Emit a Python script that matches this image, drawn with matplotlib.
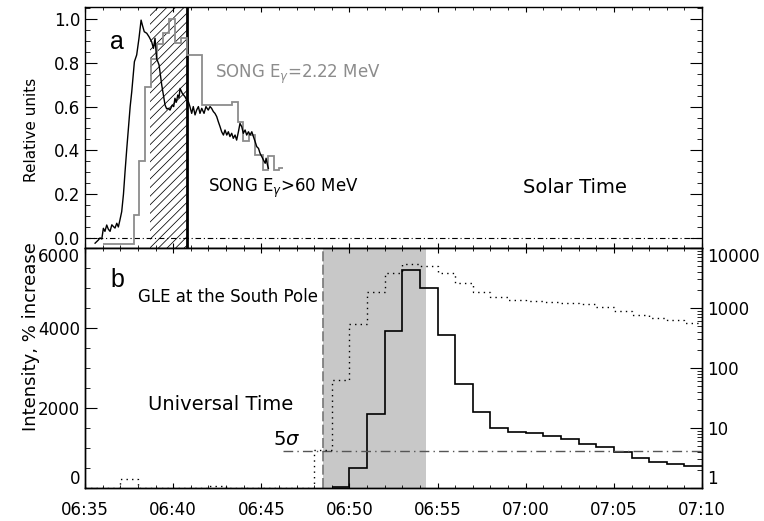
import matplotlib

matplotlib.use("Agg")

import matplotlib.pyplot as plt
import numpy as np
from matplotlib.ticker import FixedLocator, LogLocator, MultipleLocator, NullFormatter

# time axis: minutes after 06:35 UT
tick_minutes = [0, 5, 10, 15, 20, 25, 30, 35]
tick_labels = ["06:35", "06:40", "06:45", "06:50", "06:55", "07:00", "07:05", "07:10"]

# panel a: SONG E>60 MeV (relative units)
hard_t = [0.57, 0.75, 0.85, 0.95, 1.04, 1.13, 1.23, 1.32, 1.42, 1.52, 1.61, 1.70, 1.80, 1.89,
          1.98, 2.08, 2.18, 2.27, 2.37, 2.46, 2.56, 2.65, 2.80, 2.93, 3.06, 3.18, 3.25, 3.36,
          3.50, 3.63, 3.78, 3.88, 3.97, 4.06, 4.20, 4.35, 4.54, 4.63, 4.73, 4.82, 4.95, 5.03,
          5.10, 5.18, 5.26, 5.33, 5.39, 5.52, 5.67, 5.77, 5.86, 5.95, 6.05, 6.14, 6.24, 6.33,
          6.43, 6.52, 6.62, 6.75, 6.86, 6.99, 7.09, 7.18, 7.28, 7.37, 7.47, 7.56, 7.66, 7.75,
          7.85, 7.94, 8.04, 8.13, 8.22, 8.32, 8.41, 8.51, 8.60, 8.70, 8.79, 8.89, 8.98, 9.08,
          9.17, 9.27, 9.36, 9.46, 9.55, 9.65, 9.74, 9.84, 9.93, 10.03, 10.12, 10.22, 10.27,
          10.35, 10.40]
hard_v = [-0.024, -0.01, 0.0, -0.005, 0.044, 0.03, 0.059, 0.04, 0.03, 0.06, 0.052, 0.045,
          0.067, 0.05, 0.082, 0.12, 0.2, 0.303, 0.41, 0.5, 0.6, 0.668, 0.805, 0.836, 0.912,
          0.995, 0.973, 0.942, 0.935, 0.919, 0.896, 0.866, 0.912, 0.82, 0.79, 0.699, 0.607,
          0.59, 0.592, 0.584, 0.607, 0.6, 0.638, 0.62, 0.653, 0.64, 0.683, 0.66, 0.645, 0.63,
          0.623, 0.6, 0.569, 0.6, 0.562, 0.584, 0.6, 0.569, 0.592, 0.569, 0.6, 0.584, 0.6,
          0.592, 0.577, 0.569, 0.554, 0.531, 0.508, 0.485, 0.47, 0.493, 0.47, 0.485, 0.463,
          0.478, 0.455, 0.47, 0.447, 0.485, 0.523, 0.508, 0.478, 0.493, 0.47, 0.485, 0.47,
          0.485, 0.463, 0.44, 0.417, 0.409, 0.386, 0.371, 0.356, 0.341, 0.364, 0.333, 0.318]

# panel a: SONG E=2.22 MeV (relative units, histogram)
neutron_edges = [1.0, 2.75, 3.08, 3.42, 3.75, 4.08, 4.42, 4.75, 5.1, 5.45, 5.8, 6.62, 8.32,
                 8.65, 8.98, 9.32, 9.65, 10.08, 10.4, 10.74, 11.02, 11.25]
neutron_vals = [-0.03, 0.105, 0.35, 0.69, 0.817, 0.885, 0.934, 1.0, 0.889, 0.912, 0.836,
                0.607, 0.622, 0.53, 0.445, 0.47, 0.38, 0.31, 0.372, 0.31, 0.318]

# panel b: GLE at South Pole, % increase (linear, left axis)
gle_edges = list(range(14, 36))
gle_pct = [30, 510, 1840, 3930, 5450, 5000, 3825, 2600, 1890, 1510, 1390, 1380, 1300,
           1225, 1090, 1015, 910, 740, 660, 600, 550]

# panel b: same data on log scale (right axis)
gle_log_edges = list(range(0, 36))
gle_log = [1.0, 1.0, 1.41, 1.0, 1.0, 1.0, 1.0, 1.08, 1.0, 1.0, 1.0, 1.0, 1.0, 4.3, 63,
           536, 1870, 3800, 5400, 5000, 3800, 2600, 1870, 1500, 1360, 1300, 1250, 1220,
           1150, 1050, 900, 765, 690, 630, 560]

hatch_span = (3.69, 5.79)
onset_span = (13.52, 19.34)
five_sigma = 925
five_sigma_start = 11.25

fig = plt.figure(figsize=(7.64, 5.21), dpi=100)
ax_a = fig.add_axes([0.1113, 0.524, 0.8076, 0.4626])
ax_b = fig.add_axes([0.1113, 0.0633, 0.8076, 0.4607])

narrow = ["Liberation Sans Narrow", "DejaVu Sans"]
tick_font = 12
ylim_a = (-0.046, 1.055)
xlim = (0, 35)

# ---- panel a
# diagonal hatching of the impulsive interval, drawn as 45 degree lines clipped to the span
span = ax_a.axvspan(*hatch_span, facecolor="none", edgecolor="none")
bbox = ax_a.get_position()
w_px = bbox.width * fig.get_figwidth() * fig.dpi
h_px = bbox.height * fig.get_figheight() * fig.dpi
run = h_px / (w_px / (xlim[1] - xlim[0]))  # minutes covered by one axes-height at 45 deg
step = 8.6 / (w_px / (xlim[1] - xlim[0]))
for start in np.arange(hatch_span[0] - run, hatch_span[1], step):
    line, = ax_a.plot([start, start + run], [0, 1], color="black", lw=0.55,
                      transform=ax_a.get_xaxis_transform(), zorder=1)
    line.set_clip_path(span)

ax_a.axvline(hatch_span[1], color="black", lw=2.0)
ax_a.axhline(0.0, color="black", lw=0.8, ls=(0, (5, 2.5, 1, 2.5)))
ax_a.stairs(neutron_vals, neutron_edges, color="#8c8c8c", lw=1.3, baseline=None, zorder=2)
ax_a.plot(hard_t, hard_v, color="black", lw=1.0, zorder=3)

ax_a.set_xlim(*xlim)
ax_a.set_ylim(*ylim_a)
ax_a.xaxis.set_major_locator(MultipleLocator(5))
ax_a.xaxis.set_minor_locator(MultipleLocator(1))
ax_a.xaxis.set_major_formatter(NullFormatter())
ax_a.yaxis.set_major_locator(MultipleLocator(0.2))
ax_a.yaxis.set_minor_locator(MultipleLocator(0.05))
ax_a.yaxis.set_major_formatter(lambda v, p: f"{v:.1f}")
ax_a.tick_params(which="both", direction="in", top=True, right=True, labelsize=tick_font)
ax_a.tick_params(axis="x", which="major", length=3.6)
ax_a.tick_params(axis="x", which="minor", length=2.2)
ax_a.tick_params(axis="y", which="major", length=8.6)
ax_a.tick_params(axis="y", which="minor", length=3.6)

ax_a.text(1.79, 0.896, "a", fontsize=18, ha="center", va="center",
          family=["Liberation Sans", "DejaVu Sans"])
ax_a.text(7.37, 0.749, "SONG E$_\\gamma$=2.22 MeV", fontsize=12, color="#8c8c8c",
          ha="left", va="center")
ax_a.text(6.99, 0.224, "SONG E$_\\gamma$>60 MeV", fontsize=12, color="black",
          ha="left", va="center")
ax_a.text(24.84, 0.2306, "Solar Time", fontsize=14, ha="left", va="center", family=narrow)

# ---- panel b
ax_b.axvspan(*onset_span, color="#c8c8c8", lw=0, zorder=0)
ax_b.axvline(onset_span[0], color="#777777", lw=1.2, ls=(0, (6, 2)))
ax_b.plot([five_sigma_start, 35], [five_sigma, five_sigma], color="#555555", lw=1.0,
          ls=(0, (7, 3, 1, 3)))
ax_b.stairs(gle_pct, gle_edges, color="black", lw=1.2, baseline=None)

ax_b.set_xlim(*xlim)
ax_b.set_ylim(0, 6000)
ax_b.xaxis.set_major_locator(FixedLocator(tick_minutes))
ax_b.xaxis.set_minor_locator(MultipleLocator(1))
ax_b.set_xticklabels(tick_labels)
ax_b.yaxis.set_major_locator(FixedLocator([0, 2000, 4000, 6000]))
ax_b.yaxis.set_minor_locator(MultipleLocator(500))
ax_b.tick_params(which="both", direction="in", top=True, labelsize=tick_font)
ax_b.tick_params(axis="x", which="major", length=3.6, pad=9)
ax_b.tick_params(axis="x", which="minor", length=2.2)
ax_b.tick_params(axis="y", which="major", length=8.6)
ax_b.tick_params(axis="y", which="minor", length=3.6)

ax_r = ax_b.twinx()
ax_r.stairs(gle_log, gle_log_edges, color="black", lw=1.0, ls=(0, (1, 3)), baseline=None)
ax_r.set_yscale("log")
ax_r.set_ylim(1, 10000)
ax_r.set_xlim(*xlim)
ax_r.yaxis.set_major_locator(FixedLocator([1, 10, 100, 1000, 10000]))
ax_r.yaxis.set_minor_locator(LogLocator(base=10, subs=range(2, 10), numticks=10))
ax_r.yaxis.set_minor_formatter(NullFormatter())
ax_r.yaxis.set_major_formatter(lambda v, p: f"{v:.0f}")
ax_r.tick_params(which="both", direction="in", labelsize=tick_font)
ax_r.tick_params(axis="y", which="major", length=8.6)
ax_r.tick_params(axis="y", which="minor", length=3.6)

# keep end labels inside the axis height, as in the original plot
for axis in (ax_b.yaxis, ax_r.yaxis):
    ticks = axis.get_major_ticks()
    ticks[0].label1.set_va("bottom")
    ticks[0].label2.set_va("bottom")
    ticks[-1].label1.set_va("top")
    ticks[-1].label2.set_va("top")

ax_b.text(1.84, 5200, "b", fontsize=18, ha="center", va="center",
          family=["Liberation Sans", "DejaVu Sans"])
ax_b.text(3.02, 4783, "GLE at the South Pole", fontsize=12, ha="left", va="center")
ax_b.text(3.59, 2100, "Universal Time", fontsize=14, ha="left", va="center", family=narrow)
ax_b.text(10.65, 1225, "5$\\sigma$", fontsize=14, ha="left", va="center")

for ax in (ax_a, ax_b, ax_r):
    for spine in ax.spines.values():
        spine.set_linewidth(1.0)

fig.text(31 / 764, 1 - 130 / 521, "Relative units", rotation=90, fontsize=11,
         ha="center", va="center")
fig.text(31 / 764, 1 - 337 / 521, "Intensity, % increase", rotation=90, fontsize=13,
         ha="center", va="center")

fig.savefig("out.png", dpi=100)
